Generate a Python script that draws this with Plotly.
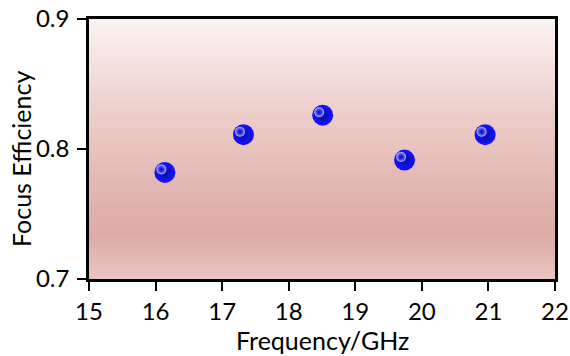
import numpy as np
import plotly.graph_objects as go

# Measured focus efficiency at each operating frequency
frequency_ghz = [16.14, 17.32, 18.51, 19.74, 20.95]
focus_efficiency = [0.782, 0.811, 0.826, 0.7915, 0.811]

x_ticks = [15, 16, 17, 18, 19, 20, 21, 22]
y_ticks = [0.7, 0.8, 0.9]

X_RANGE = [15, 22]
Y_RANGE = [0.7, 0.9]

W, H = 570, 356
M = dict(l=89, r=15, t=19, b=77)
FONT = "Lato"
PLOT_W = W - M["l"] - M["r"]
PLOT_H = H - M["t"] - M["b"]

# pixel -> data conversion, used to place the specular highlight on each sphere
px_x = (X_RANGE[1] - X_RANGE[0]) / PLOT_W
px_y = (Y_RANGE[1] - Y_RANGE[0]) / PLOT_H

fig = go.Figure()

# vertical pink background gradient of the plotting area
grad_y = np.linspace(Y_RANGE[0], Y_RANGE[1], 60)
grad_z = np.tile(grad_y[:, None], (1, 2))
fig.add_trace(go.Heatmap(
    x=X_RANGE, y=grad_y, z=grad_z, zsmooth="best", showscale=False,
    hoverinfo="skip", zmin=Y_RANGE[0], zmax=Y_RANGE[1],
    colorscale=[
        [0.0, "rgb(233,198,194)"],
        [0.17, "rgb(221,171,165)"],
        [0.4, "rgb(228,186,181)"],
        [0.7, "rgb(239,212,209)"],
        [1.0, "rgb(250,243,241)"],
    ],
))

# blue spheres
fig.add_trace(go.Scatter(
    x=frequency_ghz, y=focus_efficiency, mode="markers", showlegend=False,
    marker=dict(size=21, color="rgb(20,20,255)", line=dict(width=0),
                gradient=dict(type="radial", color="rgb(10,10,170)")),
))
# soft specular highlights
fig.add_trace(go.Scatter(
    x=[v - 3.5 * px_x for v in frequency_ghz],
    y=[v + 3 * px_y for v in focus_efficiency],
    mode="markers", showlegend=False, hoverinfo="skip",
    marker=dict(size=10, color="rgba(220,220,255,0.85)", line=dict(width=0),
                gradient=dict(type="radial", color="rgba(40,40,255,0)")),
))

axis_common = dict(
    showline=True, linecolor="black", linewidth=2.5, mirror=True,
    ticks="outside", ticklen=9, tickwidth=2, tickcolor="black",
    showgrid=False, zeroline=False, automargin=False,
    tickfont=dict(family=FONT, size=24, color="black"),
)

fig.update_layout(
    width=W, height=H, margin=M,
    paper_bgcolor="white", plot_bgcolor="white",
    xaxis=dict(range=X_RANGE, tickvals=x_ticks, ticktext=[str(v) for v in x_ticks],
               ticklabelstandoff=0, **axis_common),
    yaxis=dict(range=Y_RANGE, tickvals=y_ticks, ticktext=[f"{v:.1f}" for v in y_ticks],
               ticklabelstandoff=3, **axis_common),
)

title_font = dict(family=FONT, size=25, color="black")

# x-axis title
fig.add_annotation(
    text="Frequency/GHz", showarrow=False, borderpad=0,
    xref="paper", yref="paper",
    x=(322 - M["l"]) / PLOT_W, y=(M["t"] + PLOT_H - 340) / PLOT_H,
    xanchor="center", yanchor="middle", font=title_font,
)

# y-axis title, sitting slightly below the axis midpoint
fig.add_annotation(
    text="Focus Efficiency", textangle=-90, showarrow=False, borderpad=0,
    xref="paper", yref="paper",
    x=(21 - M["l"]) / PLOT_W, y=(M["t"] + PLOT_H - 159) / PLOT_H,
    xanchor="center", yanchor="middle", font=title_font,
)

fig.write_html("out.html")
